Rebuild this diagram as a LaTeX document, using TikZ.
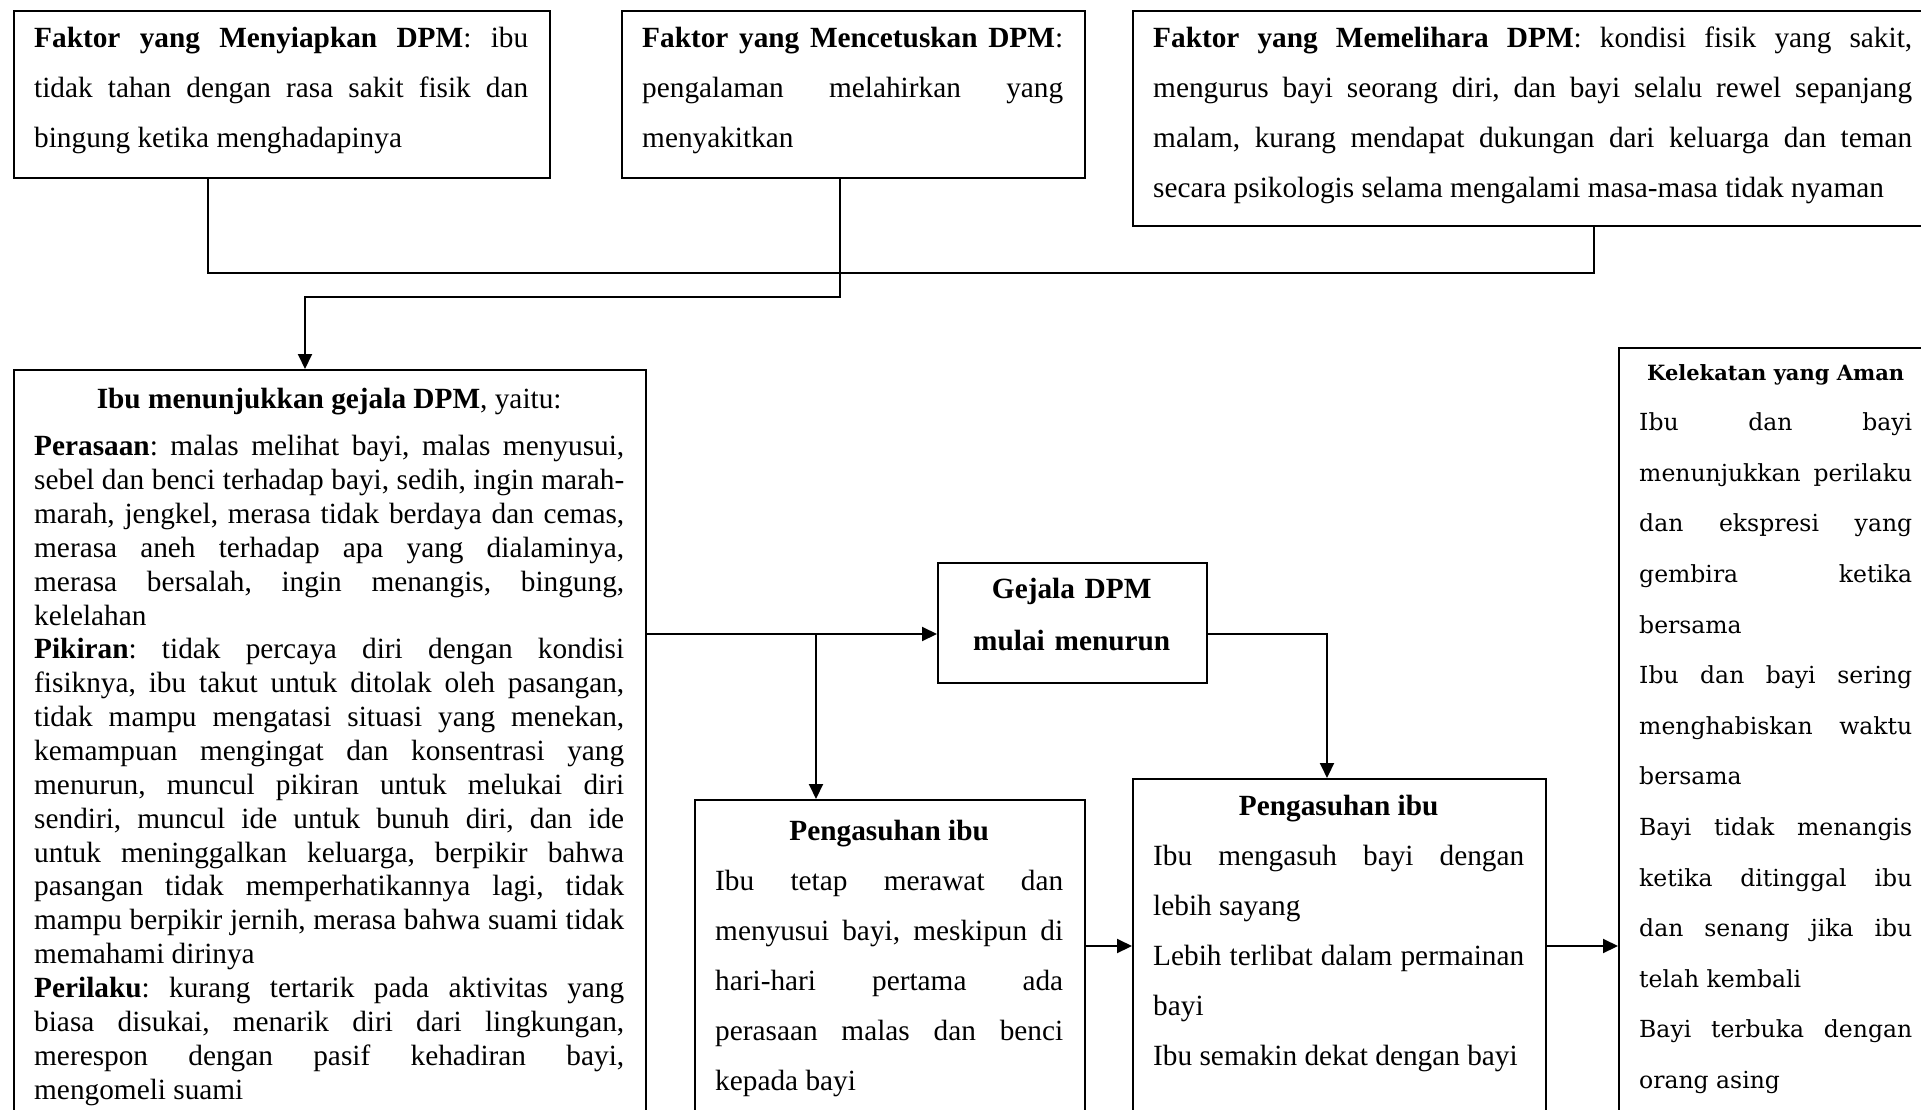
\documentclass[tikz,border=0pt]{standalone}
\usepackage{fontspec}
\setmainfont{Liberation Serif}
\newfontfamily\lekatfont{DejaVu Serif}
\usetikzlibrary{arrows.meta}

\tolerance=10000
\hbadness=10000
\hyphenpenalty=10000
\exhyphenpenalty=10000
\frenchspacing

\tikzset{
  kotak/.style={draw, line width=2.2pt, anchor=north west, inner sep=0pt},
  teks/.style={anchor=base west, inner sep=0pt, align=justify,
    font=\fontsize{29.3}{50}\selectfont},
  garis/.style={line width=2pt},
}
\NewDocumentCommand{\kotak}{mmmmm}{%
\node[kotak, minimum width=#4pt, minimum height=#5pt] (#1) at (#2,#3) {};%
}

\begin{document}
\begin{tikzpicture}[x=1pt, y=-1pt, >={Triangle[length=15pt, width=14pt]}]
        \useasboundingbox (0,0) rectangle (1921,1110);
        \clip (0,0) rectangle (1921,1110);

        % faktor
        \kotak{siap}{13}{10}{536}{167}
        \kotak{cetus}{621}{10}{463}{167}
        \kotak{pelihara}{1132}{10}{801}{215}

        % gejala
        \kotak{gejala}{13}{369}{632}{760}
        \kotak{turun}{937}{562}{269}{120}

        % pengasuhan
        \kotak{asuh1}{694}{799}{390}{330}
        \kotak{asuh2}{1132}{778}{413}{350}
        \kotak{lekat}{1618}{347}{315}{780}

        \node[teks, text width=494pt] (siap-t) at (34,48) {\textbf{Faktor yang Menyiapkan DPM}: ibu\linebreak
          tidak tahan dengan rasa sakit fisik dan\linebreak
          bingung ketika menghadapinya};
        \node[teks, text width=421pt] (cetus-t) at (642,48) {\textbf{Faktor yang Mencetuskan DPM}:\linebreak
          pengalaman melahirkan yang\linebreak
          menyakitkan};
        \node[teks, text width=759pt] (pelihara-t) at (1153,48) {\textbf{Faktor yang Memelihara DPM}: kondisi fisik yang sakit,\linebreak
          mengurus bayi seorang diri, dan bayi selalu rewel sepanjang\linebreak
          malam, kurang mendapat dukungan dari keluarga dan teman\linebreak
          secara psikologis selama mengalami masa-masa tidak nyaman};

        \node[teks, text width=590pt, font=\fontsize{29.3}{33.85}\selectfont] (gejala-t) at (34,408) {%
          {\centering\textbf{Ibu menunjukkan gejala DPM}, yaitu:\par}\vspace{14pt}
          \textbf{Perasaan}: malas melihat bayi, malas menyusui,\linebreak
          sebel dan benci terhadap bayi, sedih, ingin marah-\linebreak
          marah, jengkel, merasa tidak berdaya dan cemas,\linebreak
          merasa aneh terhadap apa yang dialaminya,\linebreak
          merasa bersalah, ingin menangis, bingung,\linebreak
          kelelahan\par
          \textbf{Pikiran}: tidak percaya diri dengan kondisi\linebreak
          fisiknya, ibu takut untuk ditolak oleh pasangan,\linebreak
          tidak mampu mengatasi situasi yang menekan,\linebreak
          kemampuan mengingat dan konsentrasi yang\linebreak
          menurun, muncul pikiran untuk melukai diri\linebreak
          sendiri, muncul ide untuk bunuh diri, dan ide\linebreak
          untuk meninggalkan keluarga, berpikir bahwa\linebreak
          pasangan tidak memperhatikannya lagi, tidak\linebreak
          mampu berpikir jernih, merasa bahwa suami tidak\linebreak
          memahami dirinya\par
          \textbf{Perilaku}: kurang tertarik pada aktivitas yang\linebreak
          biasa disukai, menarik diri dari lingkungan,\linebreak
          merespon dengan pasif kehadiran bayi,\linebreak
          mengomeli suami};

        \node[teks, text width=227pt, align=center, font=\bfseries\fontsize{29.3}{52}\selectfont] (turun-t) at (958,598) {Gejala DPM\\mulai menurun};

        \node[teks, text width=348pt] (asuh1-t) at (715,840) {%
          {\centering\textbf{Pengasuhan ibu}\par}
          Ibu tetap merawat dan\linebreak
          menyusui bayi, meskipun di\linebreak
          hari-hari pertama ada\linebreak
          perasaan malas dan benci\linebreak
          kepada bayi};
        \node[teks, text width=371pt] (asuh2-t) at (1153,815) {%
          {\centering\textbf{Pengasuhan ibu}\par}
          Ibu mengasuh bayi dengan\linebreak
          lebih sayang\par
          Lebih terlibat dalam permainan\linebreak
          bayi\par
          Ibu semakin dekat dengan bayi};
        \node[teks, text width=273pt, font=\lekatfont\fontsize{23.5}{50.6}\selectfont] (lekat-t) at (1639,380) {%
          {\centering\fontsize{21}{50.6}\selectfont\bfseries Kelekatan yang Aman\par}
          Ibu dan bayi\linebreak
          menunjukkan perilaku\linebreak
          dan ekspresi yang\linebreak
          gembira ketika\linebreak
          bersama\par
          Ibu dan bayi sering\linebreak
          menghabiskan waktu\linebreak
          bersama\par
          Bayi tidak menangis\linebreak
          ketika ditinggal ibu\linebreak
          dan senang jika ibu\linebreak
          telah kembali\par
          Bayi terbuka dengan\linebreak
          orang asing};

        % alur
        \coordinate (ka) at (208,273);
        \coordinate (kb) at (1594,273);
        \draw[garis] (siap.south -| ka) -- (ka) -- (kb) -- (pelihara.south -| kb);
        \coordinate (kc) at (840,297);
        \coordinate (kd) at (305,297);
        \draw[garis, ->] (cetus.south -| kc) -- (kc) -- (kd) -- (gejala.north -| kd);
        \coordinate (ke) at (816,634);
        \draw[garis, ->] (gejala.east |- ke) -- (turun.west |- ke);
        \draw[garis, ->] (ke) -- (asuh1.north -| ke);
        \coordinate (kf) at (1327,634);
        \draw[garis, ->] (turun.east |- kf) -- (kf) -- (asuh2.north -| kf);
        \coordinate (kg) at (1100,946);
        \draw[garis, ->] (asuh1.east |- kg) -- (asuh2.west |- kg);
        \draw[garis, ->] (asuh2.east |- kg) -- (lekat.west |- kg);
    \end{tikzpicture}
\end{document}
